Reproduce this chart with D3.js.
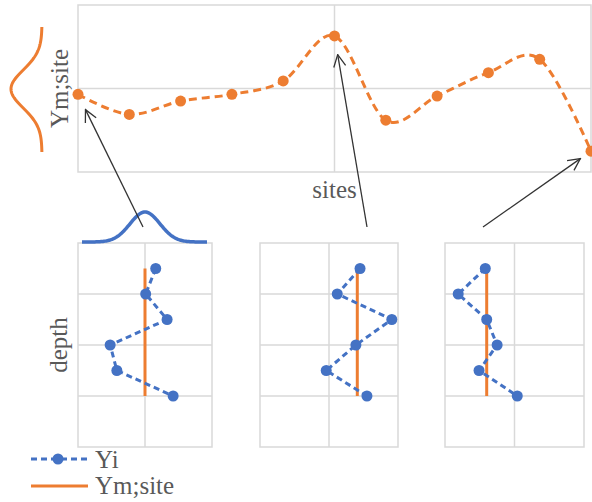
<!DOCTYPE html>
<html><head><meta charset="utf-8">
<script src="https://cdn.jsdelivr.net/npm/d3@7"></script>
<style>
html,body{margin:0;padding:0;background:#fff;}
svg{display:block;}
text{font-family:"Liberation Serif","Times New Roman",serif;fill:#595959;}
</style></head>
<body>
<svg id="chart" width="592" height="502"></svg>
<script>
// ---- data ----
const sites = [0,1,2,3,4,5,6,7,8,9,10];
const siteValues = [-0.07,-0.31,-0.15,-0.07,0.09,0.63,-0.38,-0.09,0.19,0.35,-0.75];
const depths = [0.5,1.0,1.5,2.0,2.5,3.0];
const panelSites = [0,5,10];
const panel1 = [1.16,1.01,1.33,0.48,0.58,1.42];
const panel2 = [1.45,1.12,1.91,1.39,0.96,1.55];
const panel3 = [0.58,0.19,0.60,0.75,0.49,1.04];
const panelMeans = [1.00,1.41,0.60];
const legendLabels = ["Yi","Ym;site"];
const axisLabels = {top:"Ym;site", sites:"sites", depth:"depth"};

const orange = "#ED7D31", blue = "#4472C4", grid = "#d9d9d9";
const svg = d3.select("#chart");
svg.append("rect").attr("width",592).attr("height",502).attr("fill","#fff");

// arrow marker
svg.append("defs").append("marker")
  .attr("id","arr").attr("viewBox","0 0 14 14").attr("refX",13).attr("refY",7)
  .attr("markerWidth",14).attr("markerHeight",14).attr("markerUnits","userSpaceOnUse")
  .attr("orient","auto")
  .append("path").attr("d","M1,1 L13,7 L1,13").attr("fill","none")
  .attr("stroke","#333").attr("stroke-width",1.3);

// ---- top chart ----
const x = d3.scaleLinear().domain([0,10]).range([78,591]);
const y = d3.scaleLinear().domain([-1,1]).range([172,5]);
const topG = svg.append("g");
topG.append("rect").attr("x",x(0)).attr("y",y(1)).attr("width",x(10)-x(0)).attr("height",y(-1)-y(1))
  .attr("fill","none").attr("stroke",grid).attr("stroke-width",1.5);
topG.append("line").attr("x1",x(0)).attr("x2",x(10)).attr("y1",y(0)).attr("y2",y(0))
  .attr("stroke",grid).attr("stroke-width",1.5);
topG.append("line").attr("x1",x(5)).attr("x2",x(5)).attr("y1",y(1)).attr("y2",y(-1))
  .attr("stroke",grid).attr("stroke-width",1.5);

const topPts = sites.map((s,i)=>[x(s),y(siteValues[i])]);
topG.append("path").attr("d",d3.line().curve(d3.curveCardinal.tension(0))(topPts))
  .attr("fill","none").attr("stroke",orange).attr("stroke-width",3).attr("stroke-dasharray","8,5");
topG.selectAll("circle").data(topPts).join("circle")
  .attr("cx",d=>d[0]).attr("cy",d=>d[1]).attr("r",5.5).attr("fill",orange);

topG.append("text").attr("transform",`translate(68,${y(0)}) rotate(-90)`)
  .attr("text-anchor","middle").attr("font-size",25).text(axisLabels.top);
topG.append("text").attr("x",x(5)).attr("y",198).attr("text-anchor","middle")
  .attr("font-size",25).text(axisLabels.sites);

// orange bell (vertical)
const bellY = d3.range(27,152.5,1);
topG.append("path").attr("d",d3.line()(bellY.map(v=>[42-31*Math.exp(-Math.pow(v-89,2)/(2*19*19)),v])))
  .attr("fill","none").attr("stroke",orange).attr("stroke-width",3);

// ---- bottom panels ----
const panelX = [[78,212],[260,398],[445,584]];
const py = d3.scaleLinear().domain([0,4]).range([243,447]);
const panelData = [panel1,panel2,panel3];
const pxs = panelX.map(r=>d3.scaleLinear().domain([0,2]).range(r));

panelData.forEach((vals,k)=>{
  const px = pxs[k];
  const g = svg.append("g");
  g.append("rect").attr("x",px(0)).attr("y",py(0)).attr("width",px(2)-px(0)).attr("height",py(4)-py(0))
    .attr("fill","none").attr("stroke",grid).attr("stroke-width",1.5);
  [1,2,3].forEach(d=>g.append("line").attr("x1",px(0)).attr("x2",px(2)).attr("y1",py(d)).attr("y2",py(d))
    .attr("stroke",grid).attr("stroke-width",1.5));
  g.append("line").attr("x1",px(1)).attr("x2",px(1)).attr("y1",py(0)).attr("y2",py(4))
    .attr("stroke",grid).attr("stroke-width",1.5);
  // mean line
  g.append("line").attr("x1",px(panelMeans[k])).attr("x2",px(panelMeans[k]))
    .attr("y1",py(depths[0])).attr("y2",py(depths[depths.length-1]))
    .attr("stroke",orange).attr("stroke-width",3);
  const pts = vals.map((v,i)=>[px(v),py(depths[i])]);
  g.append("path").attr("d",d3.line()(pts)).attr("fill","none").attr("stroke",blue)
    .attr("stroke-width",3).attr("stroke-dasharray","6,4");
  g.selectAll("circle").data(pts).join("circle").attr("cx",d=>d[0]).attr("cy",d=>d[1])
    .attr("r",5.5).attr("fill",blue);
});

svg.append("text").attr("transform",`translate(67,${py(2)}) rotate(-90)`)
  .attr("text-anchor","middle").attr("font-size",25).text(axisLabels.depth);

// blue bell above panel 1
const bellX = d3.range(82,207.5,1);
svg.append("path").attr("d",d3.line()(bellX.map(v=>[v,242-30*Math.exp(-Math.pow(v-pxs[0](1),2)/(2*15*15))])))
  .attr("fill","none").attr("stroke",blue).attr("stroke-width",3.5);

// arrows from panels to sites
const arrowStarts = [[143,227],[367,227],[483,227]];
const tipGap = [17,19,13];
panelSites.forEach((s,k)=>{
  const [sx,sy] = arrowStarts[k];
  const tx = x(s), ty = y(siteValues[s]);
  const dx = sx-tx, dy = sy-ty, L = Math.hypot(dx,dy);
  svg.append("line").attr("x1",sx).attr("y1",sy)
    .attr("x2",tx+dx/L*tipGap[k]).attr("y2",ty+dy/L*tipGap[k])
    .attr("stroke","#333").attr("stroke-width",1.3).attr("marker-end","url(#arr)");
});

// legend
const lg = svg.append("g");
lg.append("line").attr("x1",31).attr("x2",88).attr("y1",459).attr("y2",459)
  .attr("stroke",blue).attr("stroke-width",3).attr("stroke-dasharray","6,4");
lg.append("circle").attr("cx",58).attr("cy",459).attr("r",5.5).attr("fill",blue);
lg.append("line").attr("x1",31).attr("x2",88).attr("y1",486).attr("y2",486)
  .attr("stroke",orange).attr("stroke-width",3);
lg.append("text").attr("x",95).attr("y",468).attr("font-size",25).text(legendLabels[0]);
lg.append("text").attr("x",95).attr("y",494).attr("font-size",25).text(legendLabels[1]);
</script>
</body></html>
